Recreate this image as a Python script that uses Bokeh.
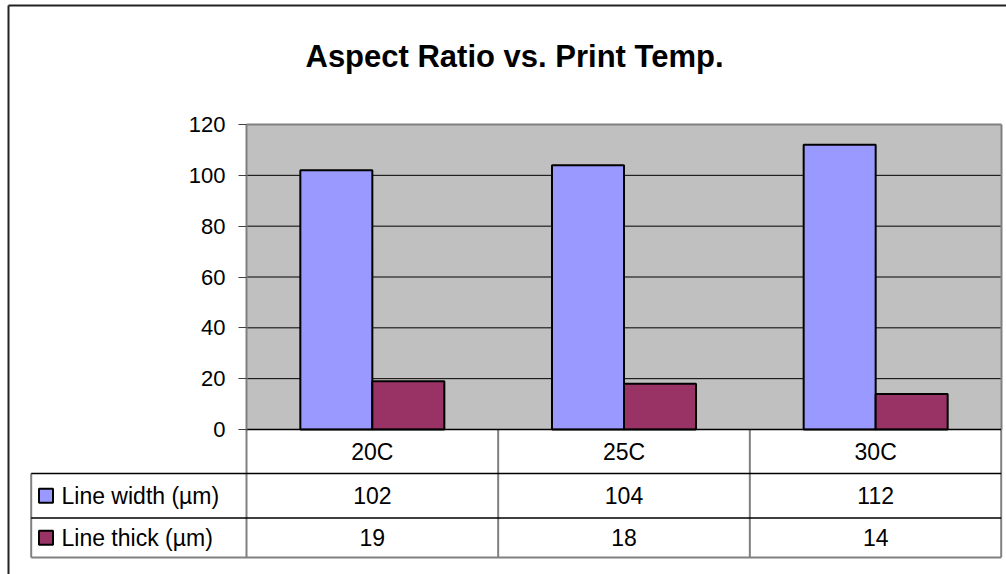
from bokeh.plotting import figure
from bokeh.models import Range1d, FixedTicker, LinearAxis, ColumnDataSource, Grid
from bokeh.embed import file_html
from bokeh.resources import INLINE
from bokeh.core.properties import value
from bokeh.transform import dodge

# ---- data ----
categories = ["20C", "25C", "30C"]
line_width_um = [102, 104, 112]
line_thick_um = [19, 18, 14]
series_names = ["Line width (µm)", "Line thick (µm)"]
series_colors = ["#9999FF", "#993366"]
y_ticks = [0, 20, 40, 60, 80, 100, 120]
y_max = 120
title_text = "Aspect Ratio vs. Print Temp."

# ---- layout constants (pixels from the top-left of the canvas) ----
FONT = "Liberation Sans"
W, H = 1006, 574
PLOT_LEFT, PLOT_RIGHT = 246, 1001
PLOT_TOP, PLOT_BOTTOM = 124, 429
BAND = (PLOT_RIGHT - PLOT_LEFT) / len(categories)
PX_PER_UNIT = (PLOT_BOTTOM - PLOT_TOP) / y_max
TICK_SIZE = "22px"
TABLE_SIZE = "23px"


def cx(px):
    """Horizontal pixel -> category coordinate (category i spans i..i+1)."""
    return (px - PLOT_LEFT) / BAND


def cy(py):
    """Vertical pixel -> value on the y scale."""
    return (PLOT_BOTTOM - py) / PX_PER_UNIT


n = len(categories)
centers = [i + 0.5 for i in range(n)]
src = ColumnDataSource(dict(xc=centers, w=line_width_um, t=line_thick_um))

p = figure(width=W, height=H,
           x_range=Range1d(cx(0), cx(W)), y_range=Range1d(cy(H), cy(0)),
           output_backend="svg", toolbar_location=None, min_border=0,
           x_axis_location=None, y_axis_location=None,
           outline_line_color=None, background_fill_color="white",
           border_fill_color="white")
p.center = [r for r in p.center if not isinstance(r, Grid)]

# chart-area frame (top and left edges are within the canvas)
p.segment(x0=[cx(8), cx(8)], y0=[cy(5), cy(5)], x1=[cx(W + 10), cx(8)],
          y1=[cy(5), cy(H + 10)], line_color="#222222", line_width=2)

# title
p.text(x=[cx(514)], y=[cy(56)], text=[title_text], text_font=value(FONT),
       text_font_size="31px", text_font_style="bold", text_align="center",
       text_baseline="alphabetic", text_color="black")

# plot area
p.quad(left=[0], right=[n], bottom=[0], top=[y_max], fill_color="#C0C0C0",
       line_color=None)
grid_vals = y_ticks[1:-1]
p.segment(x0=[0] * len(grid_vals), y0=grid_vals, x1=[n] * len(grid_vals),
          y1=grid_vals, line_color="black", line_width=1)
p.segment(x0=[0, n], y0=[y_max, y_max], x1=[n, n], y1=[y_max, 0],
          line_color="#808080", line_width=2)

# bars
bar_w = 72 / BAND
p.vbar(x=dodge("xc", -bar_w / 2), top="w", width=bar_w, source=src,
       fill_color=series_colors[0], line_color="black", line_width=2)
p.vbar(x=dodge("xc", bar_w / 2), top="t", width=bar_w, source=src,
       fill_color=series_colors[1], line_color="black", line_width=2)

# value axis, pinned at the left edge of the plot area
ax = LinearAxis(fixed_location=0, bounds=(0, y_max),
                ticker=FixedTicker(ticks=y_ticks))
ax.major_label_text_font = FONT
ax.major_label_text_font_size = TICK_SIZE
ax.major_label_text_color = "black"
ax.axis_line_color = "#808080"
ax.axis_line_width = 2
ax.major_tick_out = 8
ax.major_tick_in = 0
ax.major_tick_line_color = "#404040"
ax.major_tick_line_width = 1
ax.minor_tick_line_color = None
ax.major_label_standoff = 13
p.add_layout(ax, "left")

# ---- data table below the plot ----
row_px = [PLOT_BOTTOM, 473, 517.5, 557]
row_y = [cy(r) for r in row_px]
TBL_LEFT, TBL_RIGHT = 30.7, 1000.7
col_x = [0, 1, 2, cx(TBL_RIGHT)]

# vertical rules
p.segment(x0=col_x, y0=[row_y[0]] * 4, x1=col_x, y1=[row_y[3]] * 4,
          line_color="#808080", line_width=2)
p.segment(x0=[cx(TBL_LEFT)], y0=[row_y[1]], x1=[cx(TBL_LEFT)], y1=[row_y[3]],
          line_color="#808080", line_width=2)
# horizontal rules
p.segment(x0=[0], y0=[0], x1=[cx(TBL_RIGHT)], y1=[0],
          line_color="black", line_width=1.5)
p.segment(x0=[cx(TBL_LEFT)] * 2, y0=row_y[1:3], x1=[cx(TBL_RIGHT)] * 2,
          y1=row_y[1:3], line_color="black", line_width=1.5)
p.segment(x0=[cx(TBL_LEFT)], y0=[row_y[3]], x1=[cx(TBL_RIGHT)], y1=[row_y[3]],
          line_color="#808080", line_width=2)

row_mid = [(row_y[i] + row_y[i + 1]) / 2 for i in range(3)]

for row, labels in zip(row_mid, [categories,
                                 [str(v) for v in line_width_um],
                                 [str(v) for v in line_thick_um]]):
    p.text(x=centers, y=[row] * n, text=labels, text_font=value(FONT),
           text_font_size=TABLE_SIZE, text_align="center",
           text_baseline="middle", text_color="black")

# legend keys and series names
p.scatter(x=[cx(45.5)] * 2, y=row_mid[1:], marker="square", size=14,
          fill_color=series_colors, line_color="black", line_width=2)
p.text(x=[cx(61)] * 2, y=row_mid[1:], text=series_names,
       text_font=value(FONT), text_font_size=TABLE_SIZE, text_align="left",
       text_baseline="middle", text_color="black")

open("out.html", "w").write(file_html(p, INLINE))
